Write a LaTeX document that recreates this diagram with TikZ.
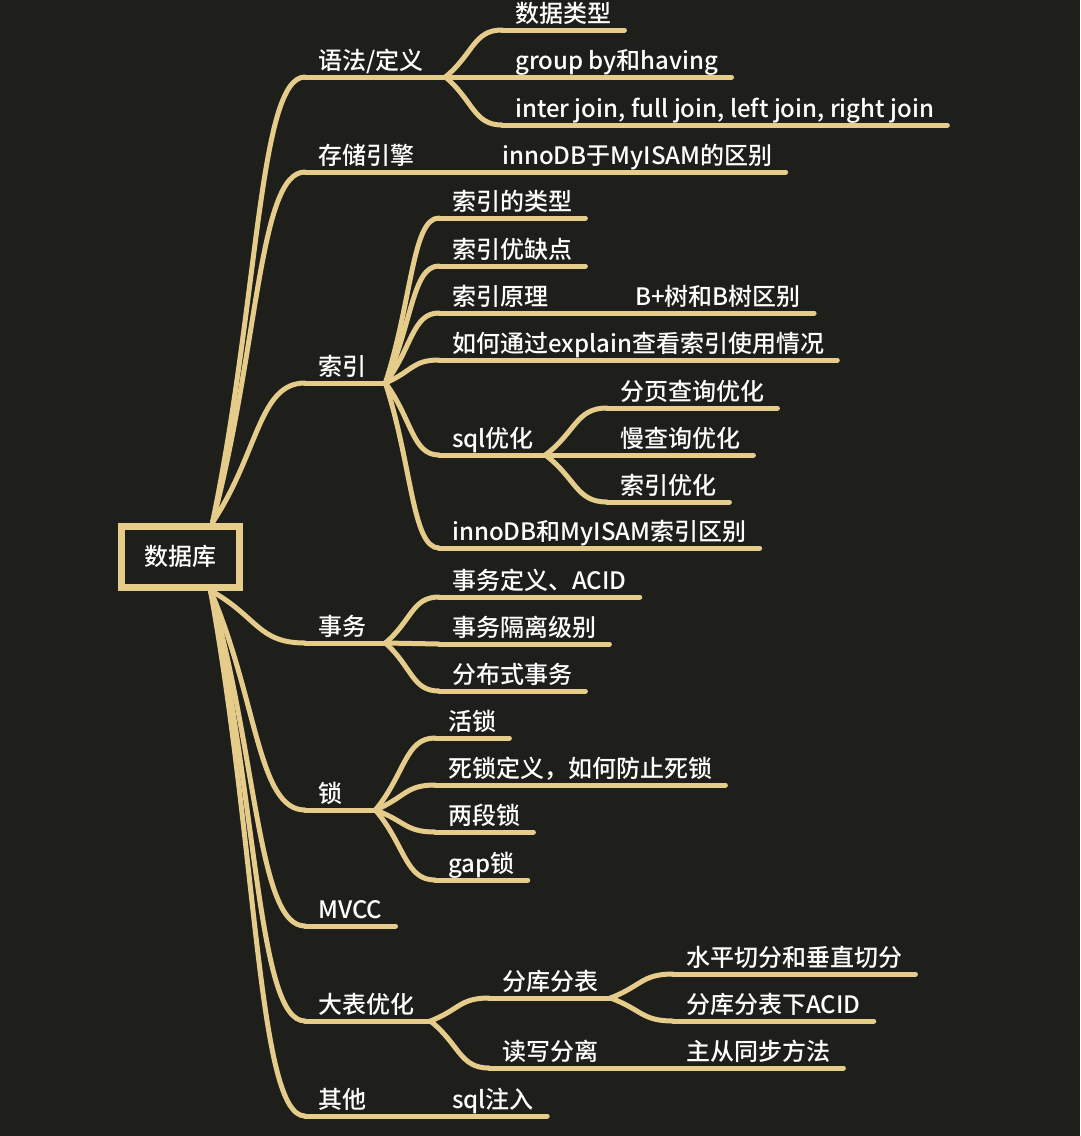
\documentclass[tikz,border=0pt]{standalone}
\usepackage{fontspec}
\setmainfont{Noto Sans CJK SC}[UprightFont={* Medium}]
\usepackage{tikz}
\usetikzlibrary{calc}
\definecolor{board}{HTML}{1E1F1A}
\definecolor{wire}{HTML}{E6CC8A}
\tikzset{
  rootbox/.style={rectangle, draw=wire, line width=7pt, fill=board, text=white, minimum width=118pt, minimum height=61pt, font=\fontsize{24}{28}\selectfont},
  topic/.style={rectangle, anchor=south west, align=left, text=white, inner xsep=13pt, inner ysep=3pt, text height=18pt, text depth=4pt, font=\fontsize{24}{28}\selectfont},
  branch/.style={draw=wire, line width=5pt, line cap=round}
}

\begin{document}
\begin{tikzpicture}[x=1pt, y=-1pt]
  \fill[board] (0,0) rectangle (1080,1136);
  \useasboundingbox (0,0) rectangle (1080,1136);

  \node[rootbox] (db) at (180.5,556.5) {数据库};
  \coordinate (db-top) at ($(db.north)+(32,0)$);
  \coordinate (db-bot) at ($(db.south)+(30,0)$);

  % first level
  \node[topic, text width=114pt] (syn) at (305,77) {语法/定义};
  \node[topic, text width=158pt] (eng) at (305,172) {存储引擎};
  \node[topic, text width=54pt] (idx) at (305,383) {索引};
  \node[topic, text width=54pt] (trx) at (305,643) {事务};
  \node[topic, text width=44pt] (lock) at (305,810) {锁};
  \node[topic] (mvcc) at (305,926) {MVCC};
  \node[topic, text width=99pt] (big) at (305,1021) {大表优化};
  \node[topic, text width=108pt] (other) at (305,1116) {其他};

  % second level
  \node[topic] (dtype) at (502,30) {数据类型};
  \node[topic] (grp) at (502,77) {group by和having};
  \node[topic] (join) at (502,125) {inter join, full join, left join, right join};
  \node[topic] (engdiff) at (489,172) {innoDB于MyISAM的区别};

  \node[topic] (itype) at (439,218) {索引的类型};
  \node[topic] (ipro) at (439,266) {索引优缺点};
  \node[topic, text width=157pt] (iprin) at (439,313) {索引原理};
  \node[topic] (bplus) at (622,313) {B+树和B树区别};
  \node[topic] (explain) at (439,360) {如何通过explain查看索引使用情况};
  \node[topic, text width=80pt] (sqlopt) at (439,455) {sql优化};
  \node[topic] (page) at (607,408) {分页查询优化};
  \node[topic] (slow) at (607,455) {慢查询优化};
  \node[topic] (iopt) at (607,502) {索引优化};
  \node[topic] (innodiff) at (439,548) {innoDB和MyISAM索引区别};

  \node[topic] (acid) at (439,597) {事务定义、ACID};
  \node[topic] (iso) at (439,644) {事务隔离级别};
  \node[topic] (dist) at (439,691) {分布式事务};

  \node[topic] (live) at (435,738) {活锁};
  \node[topic] (dead) at (435,785) {死锁定义，如何防止死锁};
  \node[topic] (twop) at (435,832) {两段锁};
  \node[topic] (gap) at (435,880) {gap锁};

  \node[topic, text width=95pt] (shard) at (489,998) {分库分表};
  \node[topic] (hv) at (673,974) {水平切分和垂直切分};
  \node[topic] (sacid) at (673,1021) {分库分表下ACID};
  \node[topic, text width=158pt] (rw) at (489,1068) {读写分离};
  \node[topic] (sync) at (673,1068) {主从同步方法};
  \node[topic] (inj) at (439,1116) {sql注入};

  % underlines
  \foreach \n in {syn,eng,idx,trx,lock,mvcc,big,other,dtype,grp,join,engdiff,itype,ipro,iprin,bplus,explain,sqlopt,page,slow,iopt,innodiff,acid,iso,dist,live,dead,twop,gap,shard,hv,sacid,rw,sync,inj}
    \draw[branch] (\n.south west) -- (\n.south east);

  % curved links
  \foreach \p/\c in {db-top/syn, db-top/eng, db-top/idx, db-bot/trx, db-bot/lock, db-bot/mvcc, db-bot/big, db-bot/other,
      syn.south east/dtype, syn.south east/grp, syn.south east/join, eng.south east/engdiff,
      idx.south east/itype, idx.south east/ipro, idx.south east/iprin, idx.south east/explain, idx.south east/sqlopt, idx.south east/innodiff,
      iprin.south east/bplus, sqlopt.south east/page, sqlopt.south east/slow, sqlopt.south east/iopt,
      trx.south east/acid, trx.south east/iso, trx.south east/dist,
      lock.south east/live, lock.south east/dead, lock.south east/twop, lock.south east/gap,
      big.south east/shard, big.south east/rw, shard.south east/hv, shard.south east/sacid, rw.south east/sync, other.south east/inj}
    \draw[branch] (\p) .. controls ($(\p)!0.5!(\c.south west)$) and ($(\c.south west)!0.5!(\p |- \c.south west)$) .. (\c.south west);
\end{tikzpicture}
\end{document}
